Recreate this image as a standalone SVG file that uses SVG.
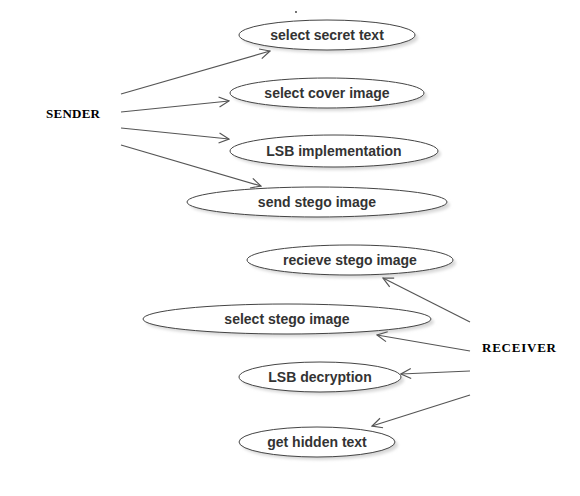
<svg xmlns="http://www.w3.org/2000/svg" width="580" height="496" viewBox="0 0 580 496">
<style>
.uc ellipse.body{fill:#fff;stroke:#444;stroke-width:1}
.uc ellipse.sh{fill:#d8d8d8;filter:url(#blur)}
.uc text{font-family:"Liberation Sans",Arial,sans-serif;font-size:14px;font-weight:bold;fill:#333;text-anchor:middle}
.actor text{font-family:"Liberation Serif","Times New Roman",serif;font-size:13px;font-weight:bold;fill:#000}
#connectors line{stroke:#555;stroke-width:1.2;marker-end:url(#open)}
</style>
<defs>
<filter id="blur" x="-10%" y="-30%" width="120%" height="160%"><feGaussianBlur stdDeviation="1.5"/></filter>
<marker id="open" viewBox="0 0 12 12" refX="11" refY="6" markerWidth="12" markerHeight="12" markerUnits="userSpaceOnUse" orient="auto"><path d="M1,1 L11,6 L1,11" fill="none" stroke="#555" stroke-width="1.2"/></marker>
</defs>
<rect width="580" height="496" fill="#fff"/>
<circle cx="296" cy="12" r="0.9" fill="#333"/>
<g id="sender" class="actor"><text x="46" y="118" textLength="54" lengthAdjust="spacing">SENDER</text></g>
<g id="receiver" class="actor"><text x="482" y="352" textLength="74" lengthAdjust="spacing">RECEIVER</text></g>
<g id="uc1" class="uc"><ellipse class="sh" cx="330" cy="38" rx="88" ry="15"/><ellipse class="body" cx="327" cy="35" rx="88" ry="15"/><text x="327" y="40">select secret text</text></g>
<g id="uc2" class="uc"><ellipse class="sh" cx="330" cy="96" rx="97" ry="15"/><ellipse class="body" cx="327" cy="93" rx="97" ry="15"/><text x="327" y="98">select cover image</text></g>
<g id="uc3" class="uc"><ellipse class="sh" cx="337" cy="154" rx="104" ry="16"/><ellipse class="body" cx="334" cy="151" rx="104" ry="16"/><text x="334" y="156">LSB implementation</text></g>
<g id="uc4" class="uc"><ellipse class="sh" cx="320" cy="205" rx="130" ry="15"/><ellipse class="body" cx="317" cy="202" rx="130" ry="15"/><text x="317" y="207">send stego image</text></g>
<g id="uc5" class="uc"><ellipse class="sh" cx="353" cy="263" rx="103" ry="15"/><ellipse class="body" cx="350" cy="260" rx="103" ry="15"/><text x="350" y="265">recieve stego image</text></g>
<g id="uc6" class="uc"><ellipse class="sh" cx="290" cy="322" rx="144" ry="15"/><ellipse class="body" cx="287" cy="319" rx="144" ry="15"/><text x="287" y="324">select stego image</text></g>
<g id="uc7" class="uc"><ellipse class="sh" cx="323" cy="380" rx="81" ry="15"/><ellipse class="body" cx="320" cy="377" rx="81" ry="15"/><text x="320" y="382">LSB decryption</text></g>
<g id="uc8" class="uc"><ellipse class="sh" cx="320" cy="445" rx="78" ry="15"/><ellipse class="body" cx="317" cy="442" rx="78" ry="15"/><text x="317" y="447">get hidden text</text></g>
<g id="connectors">
<line x1="121" y1="94" x2="270" y2="51"/>
<line x1="121" y1="112" x2="229" y2="101"/>
<line x1="121" y1="128" x2="229" y2="139"/>
<line x1="121" y1="145" x2="261" y2="186"/>
<line x1="470" y1="322" x2="383" y2="278"/>
<line x1="470" y1="351" x2="377" y2="335"/>
<line x1="470" y1="371" x2="401" y2="374"/>
<line x1="470" y1="395" x2="372" y2="426"/>
</g>
</svg>
